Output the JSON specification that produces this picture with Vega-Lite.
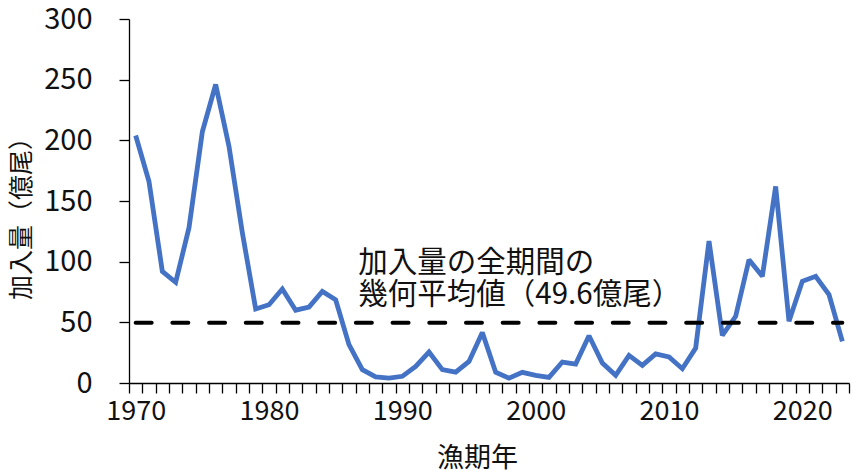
{
  "$schema": "https://vega.github.io/schema/vega-lite/v6.json",
  "autosize": {"type": "none"},
  "width": 720,
  "height": 364,
  "padding": {"left": 129, "top": 19, "right": 3, "bottom": 90},
  "background": "white",
  "config": {
    "view": {"stroke": null},
    "font": "Noto Sans CJK JP",
    "axis": {"grid": false, "domainColor": "#000000", "tickColor": "#000000", "labelColor": "#111111", "titleColor": "#111111", "labelFont": "Noto Sans CJK JP", "titleFont": "Noto Sans CJK JP", "titleFontWeight": "normal", "domainWidth": 1.3, "tickWidth": 1.3}
  },
  "datasets": {
    "series": [
      {"year": 1970, "value": 204}, {"year": 1971, "value": 166}, {"year": 1972, "value": 92},
      {"year": 1973, "value": 83}, {"year": 1974, "value": 128}, {"year": 1975, "value": 207},
      {"year": 1976, "value": 246}, {"year": 1977, "value": 195}, {"year": 1978, "value": 124},
      {"year": 1979, "value": 61}, {"year": 1980, "value": 64.5}, {"year": 1981, "value": 77.5},
      {"year": 1982, "value": 60}, {"year": 1983, "value": 62.6}, {"year": 1984, "value": 75.5},
      {"year": 1985, "value": 68.6}, {"year": 1986, "value": 31.6}, {"year": 1987, "value": 11},
      {"year": 1988, "value": 5}, {"year": 1989, "value": 4}, {"year": 1990, "value": 5.5},
      {"year": 1991, "value": 13.7}, {"year": 1992, "value": 25.5}, {"year": 1993, "value": 11},
      {"year": 1994, "value": 9}, {"year": 1995, "value": 17.8}, {"year": 1996, "value": 41.7},
      {"year": 1997, "value": 8.8}, {"year": 1998, "value": 4}, {"year": 1999, "value": 8.8},
      {"year": 2000, "value": 6.3}, {"year": 2001, "value": 4.6}, {"year": 2002, "value": 17.3},
      {"year": 2003, "value": 15.6}, {"year": 2004, "value": 39}, {"year": 2005, "value": 16.5},
      {"year": 2006, "value": 6.3}, {"year": 2007, "value": 22.8}, {"year": 2008, "value": 14.5},
      {"year": 2009, "value": 24}, {"year": 2010, "value": 21.4}, {"year": 2011, "value": 11.8},
      {"year": 2012, "value": 28.8}, {"year": 2013, "value": 117}, {"year": 2014, "value": 39.3},
      {"year": 2015, "value": 55}, {"year": 2016, "value": 101.6}, {"year": 2017, "value": 87.9},
      {"year": 2018, "value": 162}, {"year": 2019, "value": 50.8}, {"year": 2020, "value": 83.8},
      {"year": 2021, "value": 87.9}, {"year": 2022, "value": 72.8}, {"year": 2023, "value": 34.3}
    ],
    "mean": [{"year": 1970, "yearEnd": 2023, "value": 49.6}],
    "note": [{"year": 1987, "value": 110.5, "label": "加入量の全期間の\n幾何平均値（49.6億尾）"}]
  },
  "encoding": {
    "x": {
      "field": "year", "type": "quantitative",
      "scale": {"domain": [1969.5, 2023.5], "nice": false, "zero": false},
      "axis": {
        "title": "漁期年",
        "titleFontSize": 27, "titleX": 348, "titleY": 75, "titleBaseline": "middle", "titleAlign": "center",
        "values": [1969.5, 1970.5, 1971.5, 1972.5, 1973.5, 1974.5, 1975.5, 1976.5, 1977.5, 1978.5, 1979.5, 1980.5, 1981.5, 1982.5, 1983.5, 1984.5, 1985.5, 1986.5, 1987.5, 1988.5, 1989.5, 1990.5, 1991.5, 1992.5, 1993.5, 1994.5, 1995.5, 1996.5, 1997.5, 1998.5, 1999.5, 2000.5, 2001.5, 2002.5, 2003.5, 2004.5, 2005.5, 2006.5, 2007.5, 2008.5, 2009.5, 2010.5, 2011.5, 2012.5, 2013.5, 2014.5, 2015.5, 2016.5, 2017.5, 2018.5, 2019.5, 2020.5, 2021.5, 2022.5, 2023.5],
        "labelExpr": "(datum.value + 0.5) % 10 == 0 ? '' + (datum.value + 0.5) : ''",
        "labelOffset": 6.67,
        "labelOverlap": false,
        "labelFlush": false,
        "labelFontSize": 27,
        "labelPadding": 5,
        "ticks": true,
        "tickSize": 10
      }
    },
    "y": {
      "field": "value", "type": "quantitative",
      "scale": {"domain": [0, 300], "nice": false},
      "axis": {
        "title": "加入量（億尾）",
        "titleFontSize": 25, "titleX": -108, "titleY": 193, "titleBaseline": "middle", "titleAlign": "center", "titleAngle": -90,
        "values": [0, 50, 100, 150, 200, 250, 300],
        "labelFontSize": 29,
        "labelPadding": 27,
        "tickSize": 10
      }
    }
  },
  "layer": [
    {
      "data": {"name": "series"},
      "mark": {"type": "line", "color": "#4472C4", "strokeWidth": 4.8, "strokeJoin": "miter", "strokeMiterLimit": 2}
    },
    {
      "data": {"name": "mean"},
      "mark": {"type": "rule", "color": "#000000", "strokeWidth": 4, "strokeDash": [16, 20.7], "strokeCap": "round"},
      "encoding": {"x2": {"field": "yearEnd"}}
    },
    {
      "data": {"name": "note"},
      "mark": {"type": "text", "align": "left", "baseline": "top", "fontSize": 29.5, "lineBreak": "\n", "lineHeight": 32, "color": "#111111", "dx": -4},
      "encoding": {"text": {"field": "label"}}
    }
  ]
}
